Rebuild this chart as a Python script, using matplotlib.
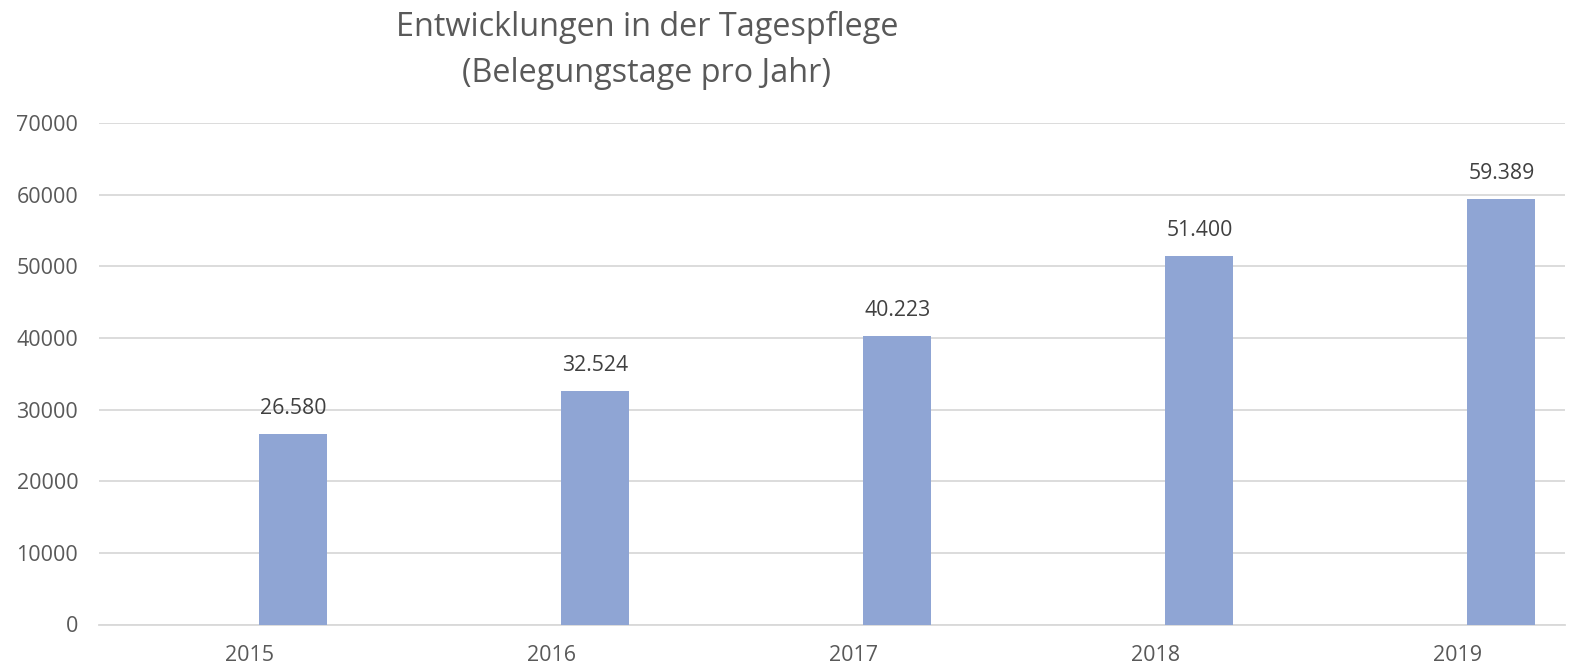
import matplotlib
matplotlib.use("Agg")
import matplotlib.pyplot as plt
import numpy as np

years = ["2015", "2016", "2017", "2018", "2019"]
values = [26580, 32524, 40223, 51400, 59389]
value_labels = ["26.580", "32.524", "40.223", "51.400", "59.389"]
y_ticks = [0, 10000, 20000, 30000, 40000, 50000, 60000, 70000]
title = "Entwicklungen in der Tagespflege\n(Belegungstage pro Jahr)"

plt.rcParams['font.family'] = ['Open Sans', 'DejaVu Sans']

fig = plt.figure(figsize=(15.85, 6.66), dpi=100)
ax = fig.add_axes([99/1585, 1-624.5/666, 1466/1585, (624.5-123)/666])

x = np.arange(len(years))
offset = 0.1437
width = 0.225
ax.bar(x + offset, values, width=width, color="#8FA5D4", zorder=3)
for xi, v, lab in zip(x, values, value_labels):
    ax.annotate(lab, (xi + offset, v), xytext=(0, 18.7), textcoords="offset points",
                ha="center", va="center", fontsize=15.3, color="#404040")

ax.set_xlim(-0.5, -0.5 + 1466 / 302)
ax.set_ylim(0, 70000)
ax.set_yticks(y_ticks)
ax.set_yticklabels([str(t) for t in y_ticks])
ax.set_xticks(x)
ax.set_xticklabels(years)
ax.tick_params(axis="both", length=0, labelsize=15.5, colors="#595959")
ax.tick_params(axis="y", pad=15)
ax.tick_params(axis="x", pad=15)
ax.grid(axis="y", color="#D9D9D9", linewidth=1.3, zorder=0)
for s in ["top", "right", "left"]:
    ax.spines[s].set_visible(False)
ax.spines["bottom"].set_color("#D9D9D9")
ax.spines["bottom"].set_linewidth(1.3)

fig.text(647/1585, 1-50.5/666, title, ha="center", va="center", fontsize=23.3,
         color="#595959", linespacing=1.55)

fig.savefig("out.png", dpi=100)
